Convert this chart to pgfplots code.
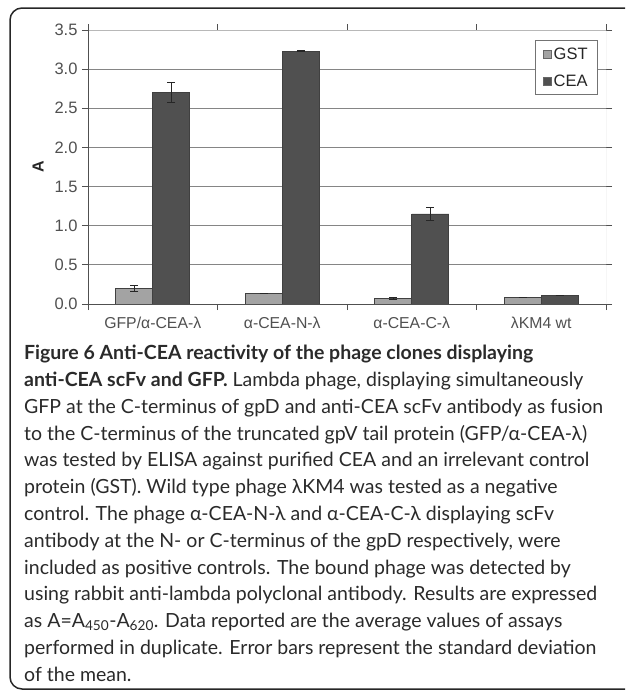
\documentclass[border=0pt]{standalone}
\usepackage{fontspec}
\usepackage{pgfplots}
\pgfplotsset{compat=1.18}
\newfontfamily\chartfont{Liberation Sans}
\newfontfamily\capfont{Lato}
\definecolor{gstcol}{HTML}{A3A3A3}
\definecolor{ceacol}{HTML}{505050}
\definecolor{tickcol}{HTML}{505050}
\definecolor{gridcol}{HTML}{858585}
\definecolor{capcol}{HTML}{2A2A2A}
\begin{document}
\begin{tikzpicture}[x=1pt,y=1pt]
\useasboundingbox (0,0) rectangle (625,-691);
\begin{scope}
\clip (0,0) rectangle (625,-691);
\draw[line width=1.5pt, black!85, rounded corners=12pt] (10,-8) rectangle (660,-689);
\end{scope}
\begin{axis}[
  at={(88pt,-304pt)}, anchor=south west, scale only axis,
  width=518pt, height=274pt,
  ymin=0, ymax=3.5, xmin=-0.5, xmax=3.5,
  ybar=0pt, bar width=37pt,
  axis line style={draw=none},
  ytick={0,0.5,1,1.5,2,2.5,3,3.5},
  ymajorgrids, grid style={gridcol, line width=0.9pt},
  tick align=outside, major tick length=6pt,
  ytick style={tickcol, line width=0.9pt},
  xtick={-0.5,0.5,1.5,2.5,3.5}, xticklabels={},
  xtick style={tickcol, line width=0.9pt},
  extra x ticks={0,1,2,3},
  extra x tick labels={GFP/α-CEA-λ, α-CEA-N-λ, α-CEA-C-λ, λKM4 wt},
  extra x tick style={grid=none, major tick length=0pt,
    xticklabel style={font=\chartfont\fontsize{15.8}{18}\selectfont, text=tickcol, yshift=-5pt}},
  tick label style={text=tickcol},
  xticklabel style={font=\chartfont\fontsize{15.8}{18}\selectfont, yshift=-5pt},
  yticklabel style={font=\chartfont\fontsize{16.5}{18}\selectfont, xshift=-1pt, /pgf/number format/.cd, fixed, fixed zerofill, precision=1, assume math mode=true},
  ylabel={\textbf{A}},
  every axis y label/.style={at={(rel axis cs:0,0.5)}, xshift=-50pt, rotate=90, anchor=center,
    font=\chartfont\fontsize{16}{18}\selectfont, text=black!85},
  legend style={at={(0.9846,0.962)}, anchor=north east, draw=black!55, line width=0.8pt, fill=white,
    font=\chartfont\fontsize{16.5}{19}\selectfont, text=black!85, inner xsep=8pt, inner ysep=5pt, row sep=10pt},
  legend cell align=left,
]
\addplot[fill=gstcol, draw=black!75, line width=0.7pt,
  legend image code/.code={\draw[fill=gstcol, draw=black!60, line width=0.6pt] (0pt,-4pt) rectangle (8pt,4pt);},
  error bars/.cd, y dir=both, y explicit,
  error bar style={black!85, line width=0.9pt},
  error mark options={rotate=90, black!85, line width=0.9pt, mark size=4pt}]
coordinates {(0,0.20) +- (0,0.035) (1,0.135) +- (0,0.0) (2,0.07) +- (0,0.015) (3,0.085) +- (0,0.0)};
\addlegendentry{GST}
\addplot[fill=ceacol, draw=black!75, line width=0.7pt,
  legend image code/.code={\draw[fill=ceacol, draw=black!60, line width=0.6pt] (0pt,-4pt) rectangle (8pt,4pt);},
  error bars/.cd, y dir=both, y explicit,
  error bar style={black!85, line width=0.9pt},
  error mark options={rotate=90, black!85, line width=0.9pt, mark size=4pt}]
coordinates {(0,2.70) +- (0,0.125) (1,3.23) +- (0,0.005) (2,1.15) +- (0,0.08) (3,0.115) +- (0,0.0)};
\addlegendentry{CEA}
\draw[black!28, line width=0.9pt] (rel axis cs:0,1) -- (rel axis cs:1,1) -- (rel axis cs:1,0);
\draw[tickcol, line width=1pt] (rel axis cs:0,1) -- (rel axis cs:0,0) -- (rel axis cs:1,0);
\end{axis}
\node[anchor=north west, inner sep=0pt, align=left, text=capcol, font=\capfont\fontsize{19.5}{26.8}\selectfont] at (24,-345) {%
\textbf{Figure 6 Anti-CEA reactivity of the phage clones displaying}\\
\textbf{anti-CEA scFv and GFP.} Lambda phage, displaying simultaneously\\
GFP at the C-terminus of gpD and anti-CEA scFv antibody as fusion\\
to the C-terminus of the truncated gpV tail protein (GFP/α-CEA-λ)\\
was tested by ELISA against purified CEA and an irrelevant control\\
protein (GST). Wild type phage λKM4 was tested as a negative\\
control. The phage α-CEA-N-λ and α-CEA-C-λ displaying scFv\\
antibody at the N- or C-terminus of the gpD respectively, were\\
included as positive controls. The bound phage was detected by\\
using rabbit anti-lambda polyclonal antibody. Results are expressed\\
as A=A\textsubscript{450}-A\textsubscript{620}. Data reported are the average values of assays\\
performed in duplicate. Error bars represent the standard deviation\\
of the mean.};
\end{tikzpicture}
\end{document}
